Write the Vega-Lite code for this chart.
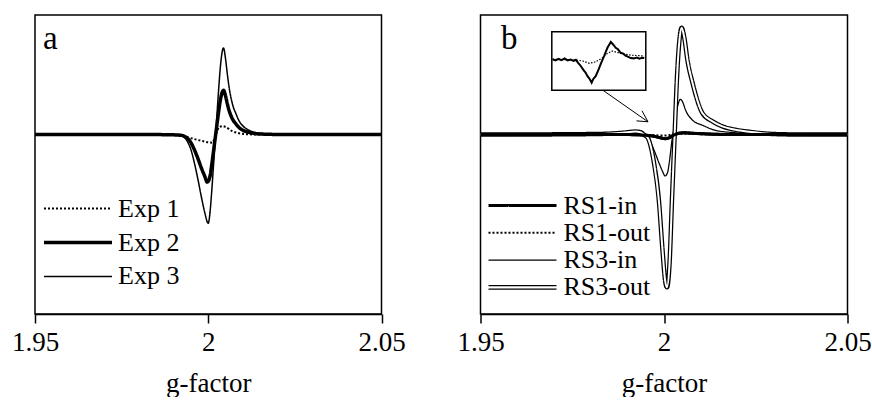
{
"$schema": "https://vega.github.io/schema/vega-lite/v6.json",
"autosize": {"type": "pad"},
"padding": {"left": 10, "top": 14, "right": 0, "bottom": 0},
"config": {
  "font": "Times New Roman",
  "view": {"stroke": "black", "strokeWidth": 1.5},
  "axis": {"domainColor": "black", "domainWidth": 1.5, "tickColor": "black", "tickWidth": 1.5, "tickSize": 9, "labelFont": "Times New Roman", "labelFontSize": 27, "labelColor": "black", "labelPadding": 6, "titleFont": "Times New Roman", "titleFontSize": 27, "titleFontWeight": "normal", "titleColor": "black", "titlePadding": 15, "grid": false, "labelFlush": false, "labelOverlap": false, "labelBound": false},
  "legend": {"labelFont": "Times New Roman", "labelFontSize": 26, "labelColor": "black", "symbolStrokeColor": "black", "padding": 0, "offset": 0, "labelLimit": 0, "symbolType": "stroke", "symbolSize": 1156}
},
"datasets": {
  "pa": [
    {"s":"Exp 1","g":1.95,"v":0},{"s":"Exp 1","g":1.985,"v":0},{"s":"Exp 1","g":1.9905,"v":-0.002},{"s":"Exp 1","g":1.9925,"v":-0.012},{"s":"Exp 1","g":1.9945,"v":-0.026},{"s":"Exp 1","g":1.9963,"v":-0.04},{"s":"Exp 1","g":1.998,"v":-0.052},{"s":"Exp 1","g":1.9992,"v":-0.06},{"s":"Exp 1","g":2.0005,"v":-0.066},{"s":"Exp 1","g":2.0012,"v":-0.068},{"s":"Exp 1","g":2.0017,"v":-0.04},{"s":"Exp 1","g":2.0022,"v":0.0},{"s":"Exp 1","g":2.0027,"v":0.04},{"s":"Exp 1","g":2.0031,"v":0.06},{"s":"Exp 1","g":2.0041,"v":0.071},{"s":"Exp 1","g":2.005,"v":0.064},{"s":"Exp 1","g":2.0069,"v":0.029},{"s":"Exp 1","g":2.0085,"v":0.014},{"s":"Exp 1","g":2.0098,"v":0.007},{"s":"Exp 1","g":2.012,"v":0.002},{"s":"Exp 1","g":2.015,"v":0},{"s":"Exp 1","g":2.05,"v":0},
    {"s":"Exp 2","g":1.95,"v":0},{"s":"Exp 2","g":1.985,"v":0},{"s":"Exp 2","g":1.99,"v":-0.002},{"s":"Exp 2","g":1.992,"v":-0.005},{"s":"Exp 2","g":1.993,"v":-0.012},{"s":"Exp 2","g":1.994,"v":-0.032},{"s":"Exp 2","g":1.995,"v":-0.067},{"s":"Exp 2","g":1.996,"v":-0.127},{"s":"Exp 2","g":1.997,"v":-0.199},{"s":"Exp 2","g":1.998,"v":-0.278},{"s":"Exp 2","g":1.999,"v":-0.349},{"s":"Exp 2","g":1.9997,"v":-0.397},{"s":"Exp 2","g":2.0005,"v":-0.349},{"s":"Exp 2","g":2.001,"v":-0.254},{"s":"Exp 2","g":2.0015,"v":-0.143},{"s":"Exp 2","g":2.002,"v":-0.032},{"s":"Exp 2","g":2.0025,"v":0.081},{"s":"Exp 2","g":2.003,"v":0.192},{"s":"Exp 2","g":2.0035,"v":0.289},{"s":"Exp 2","g":2.004,"v":0.352},{"s":"Exp 2","g":2.0044,"v":0.37},{"s":"Exp 2","g":2.005,"v":0.322},{"s":"Exp 2","g":2.0055,"v":0.259},{"s":"Exp 2","g":2.006,"v":0.204},{"s":"Exp 2","g":2.007,"v":0.13},{"s":"Exp 2","g":2.008,"v":0.089},{"s":"Exp 2","g":2.009,"v":0.056},{"s":"Exp 2","g":2.01,"v":0.037},{"s":"Exp 2","g":2.012,"v":0.017},{"s":"Exp 2","g":2.014,"v":0.007},{"s":"Exp 2","g":2.017,"v":0.003},{"s":"Exp 2","g":2.02,"v":0.001},{"s":"Exp 2","g":2.03,"v":0},{"s":"Exp 2","g":2.05,"v":0},
    {"s":"Exp 3","g":1.95,"v":0},{"s":"Exp 3","g":1.985,"v":0},{"s":"Exp 3","g":1.99,"v":-0.003},{"s":"Exp 3","g":1.992,"v":-0.009},{"s":"Exp 3","g":1.993,"v":-0.022},{"s":"Exp 3","g":1.994,"v":-0.059},{"s":"Exp 3","g":1.995,"v":-0.126},{"s":"Exp 3","g":1.996,"v":-0.237},{"s":"Exp 3","g":1.997,"v":-0.371},{"s":"Exp 3","g":1.998,"v":-0.519},{"s":"Exp 3","g":1.999,"v":-0.653},{"s":"Exp 3","g":2.0,"v":-0.742},{"s":"Exp 3","g":2.0005,"v":-0.653},{"s":"Exp 3","g":2.001,"v":-0.475},{"s":"Exp 3","g":2.0015,"v":-0.267},{"s":"Exp 3","g":2.002,"v":-0.059},{"s":"Exp 3","g":2.0025,"v":0.16},{"s":"Exp 3","g":2.003,"v":0.377},{"s":"Exp 3","g":2.0035,"v":0.566},{"s":"Exp 3","g":2.004,"v":0.689},{"s":"Exp 3","g":2.0044,"v":0.725},{"s":"Exp 3","g":2.005,"v":0.631},{"s":"Exp 3","g":2.0055,"v":0.508},{"s":"Exp 3","g":2.006,"v":0.399},{"s":"Exp 3","g":2.007,"v":0.254},{"s":"Exp 3","g":2.008,"v":0.174},{"s":"Exp 3","g":2.009,"v":0.109},{"s":"Exp 3","g":2.01,"v":0.073},{"s":"Exp 3","g":2.012,"v":0.033},{"s":"Exp 3","g":2.014,"v":0.015},{"s":"Exp 3","g":2.017,"v":0.006},{"s":"Exp 3","g":2.02,"v":0.001},{"s":"Exp 3","g":2.03,"v":0},{"s":"Exp 3","g":2.05,"v":0}
  ],
  "pb": [
    {"s":"RS1-in","g":1.95,"v":0},{"s":"RS1-in","g":1.97,"v":0.001},{"s":"RS1-in","g":1.99,"v":0},{"s":"RS1-in","g":1.994,"v":-0.003},{"s":"RS1-in","g":1.9969,"v":-0.012},{"s":"RS1-in","g":1.9988,"v":-0.025},{"s":"RS1-in","g":2.0004,"v":-0.034},{"s":"RS1-in","g":2.0015,"v":-0.025},{"s":"RS1-in","g":2.0029,"v":0.0},{"s":"RS1-in","g":2.0045,"v":0.013},{"s":"RS1-in","g":2.0056,"v":0.015},{"s":"RS1-in","g":2.0078,"v":0.011},{"s":"RS1-in","g":2.0105,"v":0.007},{"s":"RS1-in","g":2.0146,"v":0.002},{"s":"RS1-in","g":2.0187,"v":0},{"s":"RS1-in","g":2.05,"v":0},
    {"s":"RS1-out","g":1.95,"v":0},{"s":"RS1-out","g":1.99,"v":0},{"s":"RS1-out","g":1.996,"v":-0.004},{"s":"RS1-out","g":2.0,"v":-0.008},{"s":"RS1-out","g":2.002,"v":-0.002},{"s":"RS1-out","g":2.004,"v":0.006},{"s":"RS1-out","g":2.0055,"v":0.008},{"s":"RS1-out","g":2.008,"v":0.005},{"s":"RS1-out","g":2.012,"v":0.002},{"s":"RS1-out","g":2.016,"v":0},{"s":"RS1-out","g":2.05,"v":0},
    {"s":"RS3-in","g":1.95,"v":0},{"s":"RS3-in","g":1.97,"v":0.002},{"s":"RS3-in","g":1.9832,"v":0.005},{"s":"RS3-in","g":1.9887,"v":0.013},{"s":"RS3-in","g":1.9922,"v":0.02},{"s":"RS3-in","g":1.9936,"v":0.013},{"s":"RS3-in","g":1.9947,"v":-0.01},{"s":"RS3-in","g":1.996,"v":-0.048},{"s":"RS3-in","g":1.9973,"v":-0.131},{"s":"RS3-in","g":1.9987,"v":-0.242},{"s":"RS3-in","g":1.9996,"v":-0.307},{"s":"RS3-in","g":2.0003,"v":-0.346},{"s":"RS3-in","g":2.001,"v":-0.315},{"s":"RS3-in","g":2.0014,"v":-0.242},{"s":"RS3-in","g":2.0023,"v":-0.02},{"s":"RS3-in","g":2.0029,"v":0.078},{"s":"RS3-in","g":2.0034,"v":0.186},{"s":"RS3-in","g":2.004,"v":0.27},{"s":"RS3-in","g":2.0044,"v":0.295},{"s":"RS3-in","g":2.005,"v":0.278},{"s":"RS3-in","g":2.0059,"v":0.203},{"s":"RS3-in","g":2.0078,"v":0.12},{"s":"RS3-in","g":2.0105,"v":0.078},{"s":"RS3-in","g":2.014,"v":0.036},{"s":"RS3-in","g":2.0195,"v":0.015},{"s":"RS3-in","g":2.0268,"v":0.0},{"s":"RS3-in","g":2.05,"v":0},
    {"s":"RS3-out","g":1.95,"v":0},{"s":"RS3-out","g":1.97,"v":0.002},{"s":"RS3-out","g":1.9832,"v":0.006},{"s":"RS3-out","g":1.9887,"v":0.015},{"s":"RS3-out","g":1.9922,"v":0.025},{"s":"RS3-out","g":1.9936,"v":0.02},{"s":"RS3-out","g":1.9947,"v":-0.005},{"s":"RS3-out","g":1.9955,"v":-0.023},{"s":"RS3-out","g":1.9973,"v":-0.241},{"s":"RS3-out","g":1.9986,"v":-0.55},{"s":"RS3-out","g":1.9996,"v":-0.968},{"s":"RS3-out","g":2.0003,"v":-1.218},{"s":"RS3-out","g":2.0008,"v":-1.277},{"s":"RS3-out","g":2.0015,"v":-1.081},{"s":"RS3-out","g":2.0022,"v":-0.524},{"s":"RS3-out","g":2.0029,"v":0.0},{"s":"RS3-out","g":2.0035,"v":0.454},{"s":"RS3-out","g":2.0042,"v":0.788},{"s":"RS3-out","g":2.0048,"v":0.893},{"s":"RS3-out","g":2.0055,"v":0.816},{"s":"RS3-out","g":2.0064,"v":0.621},{"s":"RS3-out","g":2.0078,"v":0.43},{"s":"RS3-out","g":2.0105,"v":0.178},{"s":"RS3-out","g":2.0132,"v":0.111},{"s":"RS3-out","g":2.0159,"v":0.069},{"s":"RS3-out","g":2.0195,"v":0.04},{"s":"RS3-out","g":2.0233,"v":0.023},{"s":"RS3-out","g":2.0268,"v":0.011},{"s":"RS3-out","g":2.0323,"v":0.0025},{"s":"RS3-out","g":2.04,"v":0},{"s":"RS3-out","g":2.05,"v":0}
  ],
  "inset": [
    {"s":"in","g":1.9902,"v":0.06},{"s":"in","g":1.991,"v":0.02},{"s":"in","g":1.9918,"v":0.07},{"s":"in","g":1.9926,"v":0.03},{"s":"in","g":1.9934,"v":0.09},{"s":"in","g":1.9942,"v":0.02},{"s":"in","g":1.995,"v":0.05},{"s":"in","g":1.9958,"v":0.0},{"s":"in","g":1.9964,"v":0.04},{"s":"in","g":1.997,"v":-0.06},{"s":"in","g":1.9977,"v":-0.17},{"s":"in","g":1.9984,"v":-0.3},{"s":"in","g":1.999,"v":-0.4},{"s":"in","g":1.9995,"v":-0.52},{"s":"in","g":2.0,"v":-0.6},{"s":"in","g":2.0006,"v":-0.74},{"s":"in","g":2.001,"v":-0.62},{"s":"in","g":2.0017,"v":-0.51},{"s":"in","g":2.0024,"v":-0.3},{"s":"in","g":2.003,"v":-0.11},{"s":"in","g":2.0035,"v":0.05},{"s":"in","g":2.0039,"v":0.17},{"s":"in","g":2.0044,"v":0.33},{"s":"in","g":2.0048,"v":0.45},{"s":"in","g":2.0053,"v":0.56},{"s":"in","g":2.0057,"v":0.65},{"s":"in","g":2.0062,"v":0.58},{"s":"in","g":2.0066,"v":0.52},{"s":"in","g":2.007,"v":0.45},{"s":"in","g":2.0076,"v":0.4},{"s":"in","g":2.0083,"v":0.28},{"s":"in","g":2.009,"v":0.25},{"s":"in","g":2.0096,"v":0.18},{"s":"in","g":2.0102,"v":0.15},{"s":"in","g":2.011,"v":0.1},{"s":"in","g":2.0118,"v":0.09},{"s":"in","g":2.0126,"v":0.12},{"s":"in","g":2.0133,"v":0.08},{"s":"in","g":2.014,"v":0.11},{"s":"in","g":2.0146,"v":0.1},
    {"s":"out","g":1.9902,"v":0.06},{"s":"out","g":1.993,"v":0.05},{"s":"out","g":1.9963,"v":0.04},{"s":"out","g":1.9982,"v":0.0},{"s":"out","g":2.0,"v":-0.08},{"s":"out","g":2.0016,"v":-0.03},{"s":"out","g":2.0035,"v":0.11},{"s":"out","g":2.0048,"v":0.26},{"s":"out","g":2.0061,"v":0.34},{"s":"out","g":2.0083,"v":0.26},{"s":"out","g":2.011,"v":0.2},{"s":"out","g":2.0146,"v":0.17}
  ],
  "arrow": [
    {"part":"shaft","k":0,"g":1.9827,"v":0.385},{"part":"shaft","k":1,"g":1.99564,"v":0.107},
    {"part":"head","k":0,"g":1.99401,"v":0.199},{"part":"head","k":1,"g":1.99564,"v":0.107},{"part":"head","k":2,"g":1.99251,"v":0.115}
  ]
},
"bounds": "flush",
"spacing": 98.5,
"resolve": {"scale": {"strokeDash": "independent"}, "legend": {"strokeDash": "independent"}},
"hconcat": [
  {
    "width": 346.5, "height": 299,
    "layer": [
      {
        "data": {"name": "pa"},
        "mark": {"type": "line", "interpolate": "monotone", "color": "black"},
        "encoding": {
          "x": {"field": "g", "type": "quantitative", "scale": {"domain": [1.95, 2.05], "nice": false, "zero": false}, "axis": {"values": [1.95, 2, 2.05], "format": "~g", "title": "g-factor"}},
          "y": {"field": "v", "type": "quantitative", "scale": {"domain": [-1.5, 1], "nice": false, "zero": false}, "axis": null},
          "strokeDash": {"field": "s", "type": "nominal", "scale": {"domain": ["Exp 1", "Exp 2", "Exp 3"], "range": [[2, 2], [1, 0], [1, 0]]},
            "legend": {"title": null, "orient": "none", "legendX": 30, "legendY": 180.6, "rowPadding": 7.9, "labelOffset": 27,
              "encode": {"symbols": {"update": {
                "shape": {"value": "M-2,0H2"},
                "strokeWidth": {"signal": "datum.value === 'Exp 2' ? 3.5 : datum.value === 'Exp 1' ? 2 : 1.5"},
                "stroke": {"value": "black"}}}}}},
          "strokeWidth": {"condition": [{"test": "datum.s === 'Exp 2'", "value": 3.5}, {"test": "datum.s === 'Exp 1'", "value": 2}], "value": 1.5}
        }
      },
      {
        "data": {"values": [{}]},
        "mark": {"type": "text", "fontSize": 33, "font": "Times New Roman", "color": "black", "align": "center", "baseline": "alphabetic"},
        "encoding": {"x": {"datum": 1.95442}, "y": {"datum": 0.713}, "text": {"value": "a"}}
      }
    ]
  },
  {
    "width": 367, "height": 299,
    "resolve": {"scale": {"x": "independent", "y": "independent"}},
    "layer": [
      {
        "layer": [
          {
            "data": {"name": "pb"},
            "mark": {"type": "line", "interpolate": "monotone", "color": "black"},
            "encoding": {
              "x": {"field": "g", "type": "quantitative", "scale": {"domain": [1.95, 2.05], "nice": false, "zero": false}, "axis": {"values": [1.95, 2, 2.05], "format": "~g", "title": "g-factor"}},
              "y": {"field": "v", "type": "quantitative", "scale": {"domain": [-1.5, 1], "nice": false, "zero": false}, "axis": null},
              "strokeDash": {"field": "s", "type": "nominal", "scale": {"domain": ["RS1-in", "RS1-out", "RS3-in", "RS3-out"], "range": [[1, 0], [2, 2], [1, 0], [1, 0]]},
                "legend": {"title": null, "orient": "none", "legendX": 29, "legendY": 177.5, "rowPadding": 1.3, "labelOffset": 28,
                  "encode": {"symbols": {"update": {
                    "shape": {"signal": "datum.value === 'RS3-out' ? 'M-2,-0.1H2M-2,0.1H2' : 'M-2,0H2'"},
                    "strokeWidth": {"signal": "datum.value === 'RS1-in' ? 3 : datum.value === 'RS1-out' ? 2 : datum.value === 'RS3-in' ? 1.25 : 1.2"},
                    "stroke": {"value": "black"}}}}}},
              "strokeWidth": {"condition": [{"test": "datum.s === 'RS1-in'", "value": 3}, {"test": "datum.s === 'RS1-out'", "value": 2}, {"test": "datum.s === 'RS3-out'", "value": 4.5}], "value": 1.25}
            }
          },
          {
            "data": {"name": "pb"},
            "transform": [{"filter": "datum.s === 'RS3-out'"}],
            "mark": {"type": "line", "interpolate": "monotone", "color": "white", "strokeWidth": 2},
            "encoding": {"x": {"field": "g", "type": "quantitative"}, "y": {"field": "v", "type": "quantitative"}}
          },
          {
            "data": {"name": "pb"},
            "transform": [{"filter": "datum.s === 'RS1-in'"}],
            "mark": {"type": "line", "interpolate": "monotone", "color": "black", "strokeWidth": 3},
            "encoding": {"x": {"field": "g", "type": "quantitative"}, "y": {"field": "v", "type": "quantitative"}}
          },
          {
            "data": {"name": "arrow"},
            "mark": {"type": "line", "color": "black", "strokeWidth": 1},
            "encoding": {"x": {"field": "g", "type": "quantitative"}, "y": {"field": "v", "type": "quantitative"}, "detail": {"field": "part"}, "order": {"field": "k"}}
          },
          {
            "data": {"values": [{}]},
            "mark": {"type": "text", "fontSize": 33, "font": "Times New Roman", "color": "black", "align": "center", "baseline": "alphabetic"},
            "encoding": {"x": {"datum": 1.95785}, "y": {"datum": 0.713}, "text": {"value": "b"}}
          }
        ]
      },
      {
        "layer": [
          {
            "data": {"values": [{}]},
            "mark": {"type": "rect", "fill": "white", "stroke": "black", "strokeWidth": 1.5},
            "encoding": {
              "x": {"datum": 1.99, "type": "quantitative", "scale": {"domain": [1.99, 2.015], "range": [71.3, 165.3], "nice": false, "zero": false}, "axis": null},
              "x2": {"datum": 2.015},
              "y": {"datum": -1, "type": "quantitative", "scale": {"domain": [-1, 1], "range": [75.3, 16.7], "nice": false, "zero": false}, "axis": null},
              "y2": {"datum": 1}
            }
          },
          {
            "data": {"name": "inset"},
            "transform": [{"filter": "datum.s === 'out'"}],
            "mark": {"type": "line", "color": "black", "strokeWidth": 1.2, "strokeDash": [1.5, 1.5]},
            "encoding": {"x": {"field": "g", "type": "quantitative"}, "y": {"field": "v", "type": "quantitative"}}
          },
          {
            "data": {"name": "inset"},
            "transform": [{"filter": "datum.s === 'in'"}],
            "mark": {"type": "line", "color": "black", "strokeWidth": 2},
            "encoding": {"x": {"field": "g", "type": "quantitative"}, "y": {"field": "v", "type": "quantitative"}}
          }
        ]
      }
    ]
  }
]
}
